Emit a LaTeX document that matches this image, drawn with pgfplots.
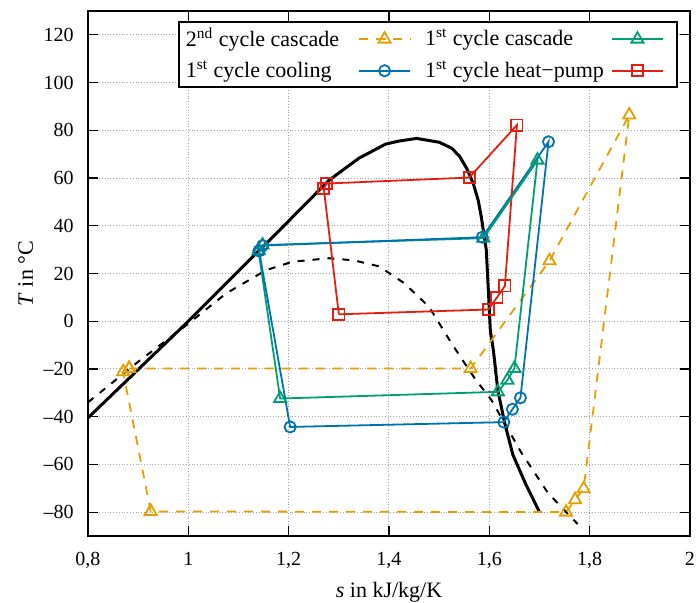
\documentclass[border=0pt]{standalone}
\usepackage{fontspec}
\setmainfont{Liberation Serif}
\usepackage{pgfplots}
\pgfplotsset{compat=1.18}

\definecolor{gpOrange}{HTML}{E69F00}
\definecolor{gpGreen}{HTML}{009E73}
\definecolor{gpBlue}{HTML}{0072B2}
\definecolor{gpRed}{HTML}{E51E10}

\begin{document}
\begin{tikzpicture}
\begin{axis}[
    scale only axis, width=301pt, height=262.5pt,
    xmin=0.8, xmax=2, ymin=-90, ymax=130,
    xtick={0.8,1.0,1.2,1.4,1.6,1.8,2.0},
    xticklabels={{0,8},1,{1,2},{1,4},{1,6},{1,8},2},
    ytick={-80,-60,-40,-20,0,20,40,60,80,100,120},
    yticklabels={--80,--60,--40,--20,0,20,40,60,80,100,120},
    tick label style={font=\fontsize{10}{12}\selectfont},
    xticklabel style={anchor=base, yshift=-15pt},
    yticklabel style={xshift=-3.7pt},
    tick align=inside, major tick length=5pt,
    tick style={black, line width=0.6pt},
    grid=major, grid style={densely dotted, gray!70, line width=0.5pt},
    axis line style={line width=1pt},
    label style={font=\fontsize{11}{13}\selectfont},
    xlabel={\textit{s} in kJ/kg/K},
    xlabel style={at={(axis description cs:0.5,-0.117)}, anchor=base},
    ylabel={\textit{T} in °C},
    ylabel style={at={(axis description cs:-0.0914,0.5)}, anchor=base},
    legend columns=2, legend plot pos=right, legend cell align=left,
    legend image code/.code={
      \draw[mark repeat=2, mark phase=2] plot coordinates {(0cm,0cm) (0.45cm,0cm) (0.9cm,0cm)};
      \path (0.9cm,0cm) ++(4.2pt,0pt);
    },
    legend style={at={(0.980,0.9815)}, anchor=north east, draw=black,
      line width=1pt, inner sep=2.3pt, row sep=3.5pt,
      font=\fontsize{11}{13}\selectfont,
      nodes={inner sep=1pt},
      /tikz/column 1/.style={column sep=8.5pt},
      /tikz/column 2/.style={column sep=1.8pt},
      /tikz/column 3/.style={column sep=2.5pt}},
]
% saturation line
\addplot[black, line width=1.5pt, forget plot] coordinates {
  (0.8,-40.5) (1.0,0) (1.1,21) (1.2,42) (1.28,59) (1.34,68.3) (1.393,74.2)
  (1.42,75.5) (1.455,76.6) (1.5,75) (1.525,72.5) (1.541,69) (1.555,64)
  (1.568,57.7) (1.578,50.5) (1.584,43.7) (1.594,29.8) (1.599,9) (1.602,-4)
  (1.608,-12) (1.617,-29) (1.631,-43) (1.647,-56) (1.672,-68) (1.70,-80)
};
% second saturation line
\addplot[black, line width=1pt, dash pattern=on 3.5pt off 4pt, forget plot] coordinates {
  (0.8,-34) (0.9,-17) (1.0,-1) (1.075,11.6) (1.155,21.4) (1.207,24.9)
  (1.28,26.4) (1.33,25.5) (1.38,23) (1.43,16) (1.48,6) (1.525,-9.4)
  (1.571,-24) (1.604,-33) (1.663,-54.8) (1.717,-72) (1.776,-85)
};
\addplot[gpOrange, line width=0.9pt, dash pattern=on 4.5pt off 4pt,
  mark=triangle, mark size=3.5pt, mark options={solid}] coordinates {
  (0.882,-19.8) (1.563,-19.8) (1.720,25.3) (1.879,86.4) (1.788,-70.2)
  (1.771,-74.8) (1.753,-80) (0.925,-79.7) (0.870,-21.2) (0.882,-19.8)
};
\addlegendentry{2\textsuperscript{nd} cycle cascade}
\addplot[gpGreen, line width=0.9pt, mark=triangle, mark size=3.5pt] coordinates {
  (1.140,29.5) (1.148,31.9) (1.588,34.8) (1.696,67.5) (1.650,-19.8)
  (1.636,-24.7) (1.617,-29.6) (1.183,-32.4) (1.140,29.5)
};
\addlegendentry{1\textsuperscript{st} cycle cascade}
\addplot[gpBlue, line width=0.9pt, mark=o, mark size=2.8pt] coordinates {
  (1.141,29.5) (1.148,31.7) (1.586,35.2) (1.718,75.2) (1.662,-32.1)
  (1.646,-36.9) (1.629,-42.3) (1.203,-44.3) (1.141,29.5)
};
\addlegendentry{1\textsuperscript{st} cycle cooling}
\addplot[gpRed, line width=0.9pt, mark=square, mark size=2.8pt] coordinates {
  (1.300,2.9) (1.598,4.9) (1.615,9.9) (1.631,14.8) (1.655,82.2)
  (1.560,60.2) (1.276,57.7) (1.270,55.6) (1.300,2.9)
};
\addlegendentry{1\textsuperscript{st} cycle heat−pump}
% green segment lies over the blue one
\addplot[gpGreen, line width=0.9pt, forget plot] coordinates {
  (1.588,34.8) (1.696,67.5)
};
\end{axis}
\pgfresetboundingbox
\path[use as bounding box] ([xshift=-44pt,yshift=-33.25pt]current axis.south west)
  rectangle ([xshift=4pt,yshift=5.5pt]current axis.north east);
\end{tikzpicture}
\end{document}
